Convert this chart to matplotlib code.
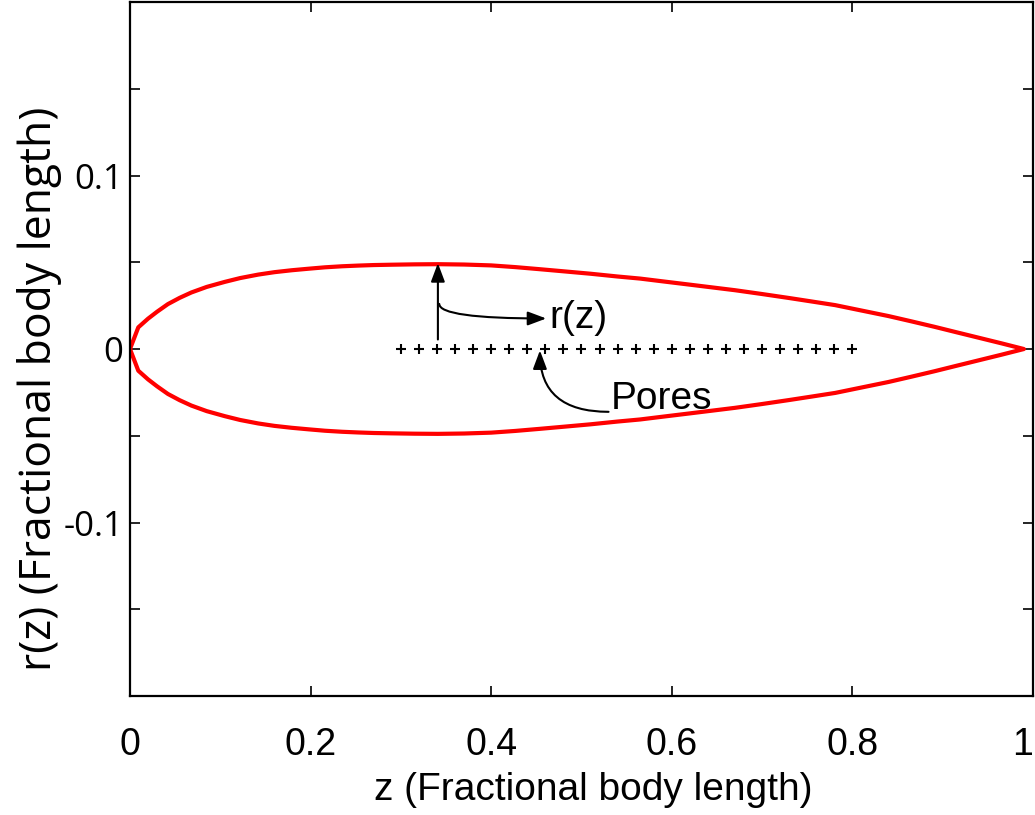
import numpy as np
import matplotlib
matplotlib.use("Agg")
import matplotlib.pyplot as plt

plt.rcParams['font.family'] = ['Liberation Sans', 'DejaVu Sans']

# body outline: upper half r(z), lower half is the mirror image
z_body = [0.0, 0.0092, 0.020, 0.030, 0.042, 0.055, 0.068, 0.085, 0.105, 0.122, 0.142,
          0.160, 0.179, 0.198, 0.216, 0.235, 0.253, 0.270, 0.290, 0.315, 0.341, 0.370,
          0.400, 0.427, 0.454, 0.480, 0.510, 0.540, 0.565, 0.590, 0.620, 0.645, 0.670,
          0.700, 0.730, 0.755, 0.781, 0.810, 0.840, 0.865, 0.891, 0.915, 0.940, 0.965, 0.99]
r_body = [0.0, 0.0125, 0.0175, 0.0215, 0.0259, 0.0295, 0.0326, 0.0358, 0.0387, 0.0409,
          0.0429, 0.0443, 0.0454, 0.0463, 0.0471, 0.0477, 0.0481, 0.0484, 0.0486, 0.0488,
          0.0489, 0.0487, 0.0482, 0.0472, 0.0460, 0.0448, 0.0434, 0.0418, 0.0406, 0.0390,
          0.0371, 0.0355, 0.0339, 0.0317, 0.0294, 0.0274, 0.0253, 0.0222, 0.0190, 0.0160,
          0.0128, 0.0097, 0.0065, 0.0033, 0.0]

# pore positions along the axis
z_pores = [0.30, 0.32, 0.34, 0.36, 0.38, 0.40, 0.42, 0.44, 0.46, 0.48, 0.50, 0.52, 0.54,
           0.56, 0.58, 0.60, 0.62, 0.64, 0.66, 0.68, 0.70, 0.72, 0.74, 0.76, 0.78, 0.80]
r_pores = [0.0] * len(z_pores)

x_ticks = [0, 0.2, 0.4, 0.6, 0.8, 1.0]
x_labels = ['0', '0.2', '0.4', '0.6', '0.8', '1']
y_ticks = [-0.15, -0.1, -0.05, 0, 0.05, 0.1, 0.15]
y_labels = ['', '-0.1', '', '0', '', '0.1', '']

fig = plt.figure(figsize=(10.35, 8.15), dpi=100)
ax = fig.add_axes([0.1256, 0.146, 0.8724, 0.8515])

z = np.array(z_body)
r = np.array(r_body)
z_loop = np.concatenate([z, z[::-1]])
r_loop = np.concatenate([r, -r[::-1]])
ax.plot(z_loop, r_loop, color='#ff0000', lw=3, solid_joinstyle='round')

ax.plot(z_pores, r_pores, linestyle='none', marker='+', color='black',
        markersize=6.5, markeredgewidth=1.5)

# radius arrow and its label
arrow_kw = dict(arrowstyle='-|>,head_length=0.8,head_width=0.3', color='black', lw=1.5,
                shrinkA=0, shrinkB=0, mutation_scale=14)
ax.annotate('', xy=(0.341, 0.0495), xytext=(0.341, 0.0055), arrowprops=arrow_kw)
ax.annotate('', xy=(0.461, 0.0176), xytext=(0.3425, 0.026),
            arrowprops=dict(arrow_kw, connectionstyle='angle3,angleA=90,angleB=0'))
ax.text(0.465, 0.0176, 'r(z)', fontsize=28, va='center', ha='left')

ax.annotate('', xy=(0.454, -0.0008), xytext=(0.530, -0.0362),
            arrowprops=dict(arrow_kw, connectionstyle='angle3,angleA=0,angleB=90'))
ax.text(0.532, -0.029, 'Pores', fontsize=28, va='center', ha='left')

ax.set_xlim(0, 1)
ax.set_ylim(-0.2, 0.2)
ax.set_xticks(x_ticks)
ax.set_xticklabels(x_labels, fontsize=27)
ax.get_xticklabels()[-1].set_ha('right')
ax.set_yticks(y_ticks)
ax.set_yticklabels(y_labels, fontsize=25, family=['Open Sans', 'DejaVu Sans'])
ax.tick_params(direction='in', length=7, width=1.2, top=True, right=True)
ax.tick_params(axis='x', pad=22)
ax.tick_params(axis='y', pad=5)
for s in ax.spines.values():
    s.set_linewidth(1.6)

ax.set_xlabel('z (Fractional body length)', fontsize=28)
ax.xaxis.set_label_coords(0.513, -0.135)
ax.xaxis.label.set_va('center')
ax.set_ylabel('r(z) (Fractional body length)', fontsize=32, family=['Open Sans', 'DejaVu Sans'])
ax.yaxis.set_label_coords(-0.1, 0.442)
ax.yaxis.label.set_va('center')

fig.savefig('out.png', dpi=100)
